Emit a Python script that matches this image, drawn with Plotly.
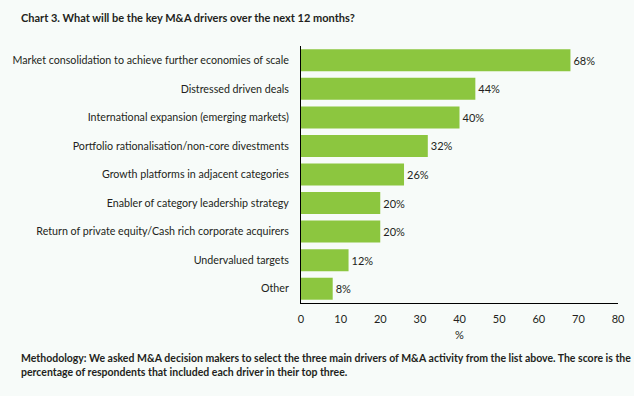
import plotly.graph_objects as go

categories = [
    "Market consolidation to achieve further economies of scale",
    "Distressed driven deals",
    "International expansion (emerging markets)",
    "Portfolio rationalisation/non-core divestments",
    "Growth platforms in adjacent categories",
    "Enabler of category leadership strategy",
    "Return of private equity/Cash rich corporate acquirers",
    "Undervalued targets",
    "Other",
]
values = [68, 44, 40, 32, 26, 20, 20, 12, 8]
x_ticks = [0, 10, 20, 30, 40, 50, 60, 70, 80]

BG = "#f7fbf9"
BAR = "#8cc63f"
TXT = "#231f20"
FONT = "Lato"

fig = go.Figure(go.Bar(
    x=values, y=categories, orientation="h",
    marker=dict(color=BAR, line=dict(width=0)),
    text=[f"{v}%" for v in values], textposition="outside",
    textfont=dict(family=FONT, size=11, color=TXT),
    cliponaxis=False,
))

fig.update_layout(
    width=634, height=396,
    paper_bgcolor=BG, plot_bgcolor=BG,
    margin=dict(l=301, r=9, t=46, b=93),
    bargap=0.23,
    showlegend=False,
    font=dict(family=FONT, size=11, color=TXT),
    xaxis=dict(range=[0, 80], tickvals=x_ticks, showgrid=False, zeroline=False,
               showline=True, linecolor="#000000", linewidth=1,
               ticks="", ticklabelstandoff=6,
               tickfont=dict(family=FONT, size=11, color=TXT),
               title=dict(text="%", font=dict(family=FONT, size=11, color=TXT), standoff=7)),
    yaxis=dict(autorange="reversed", showgrid=False, zeroline=False,
               showline=True, linecolor="#000000", linewidth=1,
               ticks="", ticklabelstandoff=9,
               tickfont=dict(family=FONT, size=10.7, color=TXT)),
    annotations=[
        dict(text="<b>Chart 3. What will be the key M&A drivers over the next 12 months?</b>",
             xref="paper", yref="paper", x=-(301 - 13)/324, y=1 + 28/257, xanchor="left", yanchor="middle",
             showarrow=False, font=dict(family=FONT, size=11, color=TXT)),
        dict(text="<b>Methodology: We asked M&A decision makers to select the three main drivers of M&A activity from the list above. The score is the<br>percentage of respondents that included each driver in their top three.</b>",
             xref="paper", yref="paper", x=-(301 - 13)/324, y=-(358 - 303 - 8) / 257, xanchor="left", yanchor="top",
             align="left", showarrow=False, font=dict(family=FONT, size=10.5, color=TXT)),
    ],
)

fig.write_html("out.html", config={"displayModeBar": False},
               post_script="document.body.style.margin='0';")
